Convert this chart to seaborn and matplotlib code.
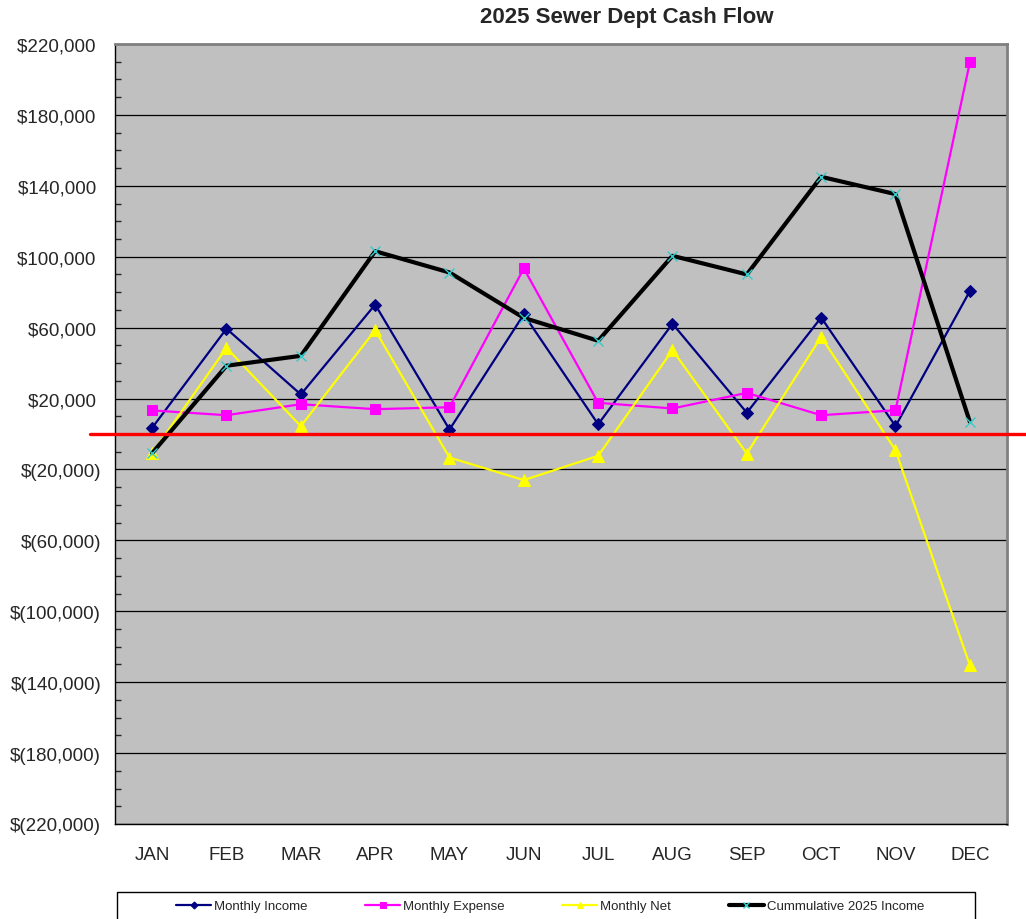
"""2025 Sewer Dept cash flow chart."""
import matplotlib

matplotlib.use("Agg")
import matplotlib.pyplot as plt
import numpy as np
import pandas as pd
import seaborn as sns
from matplotlib.patches import Rectangle
from matplotlib.ticker import FuncFormatter, MultipleLocator

MONTHS = ["JAN", "FEB", "MAR", "APR", "MAY", "JUN", "JUL", "AUG", "SEP", "OCT", "NOV", "DEC"]
MONTHLY_INCOME = [3500, 59400, 22300, 73000, 2500, 67500, 5500, 62200, 12000, 65700, 4400, 80600]
MONTHLY_EXPENSE = [13300, 10600, 16800, 14000, 15100, 93400, 17600, 14400, 23200, 10600, 13400, 209600]
MONTHLY_NET = [-10800, 48600, 4400, 58600, -13300, -26000, -12300, 47300, -11000, 54800, -9100, -130400]
CUMULATIVE = [-10800, 38500, 44100, 103100, 91100, 65500, 52600, 100500, 90000, 145100, 135300, 6900]
Y_TICKS = list(range(-220000, 220001, 40000))

sns.set_style("white")
plt.rcParams["font.family"] = ["Liberation Sans", "DejaVu Sans"]

df = pd.DataFrame({
    "idx": np.arange(len(MONTHS)),
    "income": MONTHLY_INCOME,
    "expense": MONTHLY_EXPENSE,
    "net": MONTHLY_NET,
    "cum": CUMULATIVE,
})

fig = plt.figure(figsize=(10.26, 9.2), dpi=100)
ax = fig.add_axes([115 / 1026, 1 - 825 / 920, 892 / 1026, 780 / 920])
ax.set_facecolor("#C0C0C0")

sns.lineplot(data=df, x="idx", y="income", ax=ax, color="#000080", lw=1.6,
             marker="D", markersize=6, markeredgecolor="#000080", label="Monthly Income")
sns.lineplot(data=df, x="idx", y="expense", ax=ax, color="#FF00FF", lw=1.6,
             marker="s", markersize=7, markeredgecolor="#FF00FF", label="Monthly Expense")
sns.lineplot(data=df, x="idx", y="net", ax=ax, color="#FFFF00", lw=1.6,
             marker="^", markersize=8, markeredgecolor="#FFFF00", label="Monthly Net")
sns.lineplot(data=df, x="idx", y="cum", ax=ax, color="black", lw=3,
             marker="x", markersize=7, markeredgecolor="#33CCCC", mew=1,
             label="Cummulative 2025 Income")

ax.axhline(0, xmin=-0.028, xmax=1.03, color="red", lw=2.4, clip_on=False, zorder=5)

ax.set_xlim(-0.5, len(MONTHS) - 0.5)
ax.set_ylim(Y_TICKS[0], Y_TICKS[-1])
ax.set_xticks(np.arange(len(MONTHS)))
ax.set_xticklabels(MONTHS)
ax.set_xticks(np.arange(len(MONTHS) + 1) - 0.5, minor=True)
ax.tick_params(axis="x", which="major", length=0, pad=16, labelsize=13.5)
ax.tick_params(axis="x", which="minor", length=4, width=1, direction="out", color="black")

ax.set_yticks(Y_TICKS)
ax.yaxis.set_minor_locator(MultipleLocator(10000))


def money(v, pos):
    v = int(round(v))
    if v < 0:
        return f"$({abs(v):,})"
    return f"${v:,} "


ax.yaxis.set_major_formatter(FuncFormatter(money))
ax.tick_params(axis="y", which="major", length=8, width=1, direction="inout", pad=6, labelsize=13.5)
ax.tick_params(axis="y", which="minor", length=4, width=1, direction="in", left=True)
ax.grid(axis="y", which="major", color="black", lw=0.9)
ax.set_axisbelow(True)
ax.set_xlabel("")
ax.set_ylabel("")

for side in ["left", "bottom"]:
    ax.spines[side].set_color("black")
    ax.spines[side].set_linewidth(1)
for side in ["top", "right"]:
    ax.spines[side].set_color("#808080")
    ax.spines[side].set_linewidth(2)

fig.text(627 / 1026, 1 - 18 / 920, "2025 Sewer Dept Cash Flow", ha="center", va="center",
         fontsize=16, fontweight="bold")

handles, labels = ax.get_legend_handles_labels()
ax.get_legend().remove()
leg = fig.legend(handles, labels, loc="center", bbox_to_anchor=(550 / 1026, 1 - 907 / 920),
                 ncol=4, frameon=False, handlelength=2.65, handletextpad=0.2, columnspacing=4.4,
                 markerscale=0.6, prop={"family": ["Liberation Sans Narrow", "Liberation Sans"], "size": 9.5})
fig.patches.append(Rectangle((117 / 1026, -0.02), 858 / 1026, 1 - 893 / 920 + 0.02,
                             transform=fig.transFigure, fill=False, edgecolor="black", lw=1))

fig.savefig("out.png", dpi=100)
